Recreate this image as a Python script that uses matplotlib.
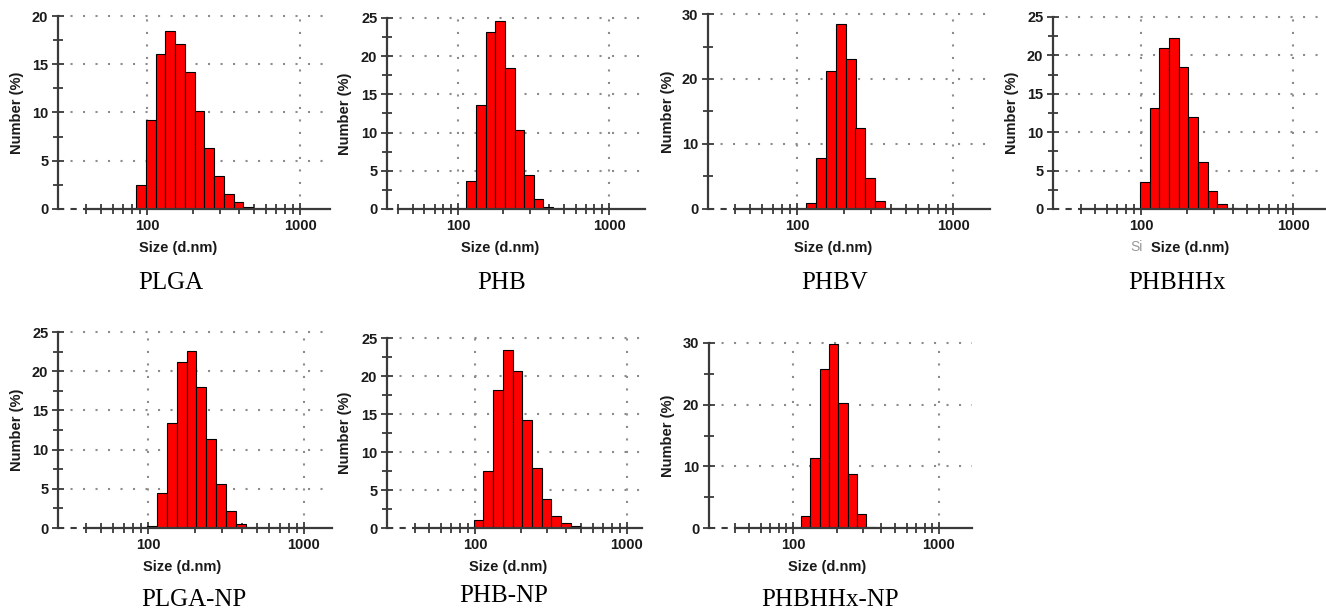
import numpy as np
import matplotlib
matplotlib.use("Agg")
import matplotlib.pyplot as plt
from matplotlib.ticker import FixedLocator, NullFormatter

# Zetasizer size classes (nm), bin centres
size_classes = [91.28, 105.7, 122.4, 141.8, 164.2, 190.1, 220.2, 255.0,
                295.3, 342.0, 396.1, 458.7, 531.2, 615.1, 712.4]

# Number (%) per size class, first value belongs to the given start size
plga_start = 91.28
plga_vals = [2.5, 9.2, 16.1, 18.4, 17.1, 14.2, 10.2, 6.3, 3.4, 1.6, 0.75, 0.25]
phb_start = 122.4
phb_vals = [3.6, 13.6, 23.2, 24.6, 18.5, 10.4, 4.5, 1.25, 0.2]
phbv_start = 122.4
phbv_vals = [0.9, 7.8, 21.2, 28.5, 23.1, 12.5, 4.7, 1.2]
phbhhx_start = 105.7
phbhhx_vals = [3.5, 13.1, 21.0, 22.3, 18.5, 12.0, 6.1, 2.3, 0.7, 0.15]
plganp_start = 105.7
plganp_vals = [0.3, 4.5, 13.4, 21.2, 22.6, 18.0, 11.3, 5.6, 2.2, 0.5]
phbnp_start = 105.7
phbnp_vals = [1.1, 7.5, 18.2, 23.4, 20.7, 14.2, 7.9, 3.8, 1.6, 0.7, 0.3, 0.15, 0.1, 0.05]
phbhhxnp_start = 122.4
phbhhxnp_vals = [2.0, 11.3, 25.8, 29.9, 20.3, 8.7, 2.2, 0.15]

titles = ["PLGA", "PHB", "PHBV", "PHBHHx", "PLGA-NP", "PHB-NP", "PHBHHx-NP"]
starts = [plga_start, phb_start, phbv_start, phbhhx_start, plganp_start, phbnp_start, phbhhxnp_start]
values = [plga_vals, phb_vals, phbv_vals, phbhhx_vals, plganp_vals, phbnp_vals, phbhhxnp_vals]
ymaxes = [20, 25, 30, 25, 25, 25, 30]
ysteps = [5, 5, 10, 5, 5, 5, 10]
x_major = [100, 1000]
x_minor = [40, 50, 60, 70, 80, 90, 200, 300, 400, 500, 600, 700, 800, 900]

# layout in pixels: left, right, top, bottom of axes; xlim as log10
W, H = 1326, 613
boxes = [(58, 330, 16, 209), (387, 645, 18, 209), (708, 990, 14, 209), (1053, 1326, 17, 209),
         (58, 332, 332, 528), (387, 642, 338, 528), (709, 972, 343, 528)]
xlims = [(1.418, 3.196), (1.530, 3.238), (1.429, 3.237), (1.421, 3.217),
         (1.423, 3.180), (1.421, 3.099), (1.425, 3.226)]
size_label_pos = [(178, 248), (500, 248), (833, 248), (1190, 248),
                  (182, 567), (508, 567), (827, 567)]
title_pos = [(171, 283), (502, 283), (835, 283), (1177, 283),
             (194, 600), (504, 596), (830, 600)]
ylabel_x = [17, 345, 668, 1012, 17, 345, 668]

axis_col = "#3a3a3a"
grid_col = "#8c8c8c"

fig = plt.figure(figsize=(W / 100, H / 100), dpi=100)
fig.patch.set_facecolor("white")

sc = np.array(size_classes)
ratio = np.exp(np.mean(np.diff(np.log(sc))))

for i in range(7):
    L, R, T, B = boxes[i]
    ax = fig.add_axes([L / W, 1 - B / H, (R - L) / W, (B - T) / H])
    x0, x1 = 10 ** xlims[i][0], 10 ** xlims[i][1]
    ax.set_xscale("log")
    ax.set_xlim(x0, x1)
    ax.set_ylim(0, ymaxes[i])

    k = int(np.argmin(np.abs(sc - starts[i])))
    centres = sc[k:k + len(values[i])]
    lefts = centres / np.sqrt(ratio)
    rights = centres * np.sqrt(ratio)
    ax.bar(lefts, values[i], width=rights - lefts, align="edge",
           color="#ff0000", edgecolor="black", linewidth=0.8, zorder=3)

    # grid
    for yv in np.arange(ysteps[i], ymaxes[i] + 0.1, ysteps[i]):
        ax.axhline(yv, color=grid_col, lw=1.5, ls=(0, (1.0, 5.0)), zorder=1, clip_on=False)
    for xv in x_major:
        ax.axvline(xv, color=grid_col, lw=1.5, ls=(0, (1.0, 5.0)), zorder=1)
    ax.hlines(0, x0, 40, colors=axis_col, lw=1.5, linestyles=(0, (3, 3)),
              zorder=4, clip_on=False)

    for s in ["top", "right"]:
        ax.spines[s].set_visible(False)
    ax.spines["bottom"].set_bounds(40, x1)
    for s in ["left", "bottom"]:
        ax.spines[s].set_color(axis_col)
        ax.spines[s].set_linewidth(1.6)
        ax.spines[s].set_zorder(5)

    ax.xaxis.set_major_locator(FixedLocator(x_major))
    ax.xaxis.set_minor_locator(FixedLocator(x_minor))
    ax.xaxis.set_minor_formatter(NullFormatter())
    ax.set_xticklabels([str(v) for v in x_major])
    ax.yaxis.set_major_locator(FixedLocator(np.arange(0, ymaxes[i] + 0.1, ysteps[i])))
    ax.yaxis.set_minor_locator(FixedLocator(np.arange(ysteps[i] / 2, ymaxes[i], ysteps[i])))
    ax.tick_params(axis="both", which="both", direction="inout", color=axis_col, width=1.3)
    ax.tick_params(axis="both", which="major", length=8, labelsize=10.5,
                   labelcolor="#1a1a1a", pad=3)
    ax.tick_params(axis="both", which="minor", length=7)
    for lab in ax.get_xticklabels() + ax.get_yticklabels():
        lab.set_fontfamily("Liberation Sans")
        lab.set_fontweight("bold")
    ax.patch.set_alpha(0)

    fig.text(ylabel_x[i] / W, 1 - ((T + B) / 2) / H, "Number (%)", rotation=90,
             ha="center", va="center", fontsize=10.5, fontweight="bold",
             family="Liberation Sans", color="#1a1a1a")
    sx, sy = size_label_pos[i]
    fig.text(sx / W, 1 - sy / H, "Size (d.nm)", ha="center", va="center",
             fontsize=10.5, fontweight="bold", family="Liberation Sans", color="#1a1a1a")
    tx, ty = title_pos[i]
    fig.text(tx / W, 1 - ty / H, titles[i], ha="center", va="center",
             fontsize=18, family="Liberation Serif", color="black")

# faint leftover label fragment visible in the original figure
fig.text(1137 / W, 1 - 247 / H, "Si", ha="center", va="center", fontsize=10,
         family="Liberation Sans", color="#9a9a9a")

fig.savefig("out.png", dpi=100, facecolor="white")
